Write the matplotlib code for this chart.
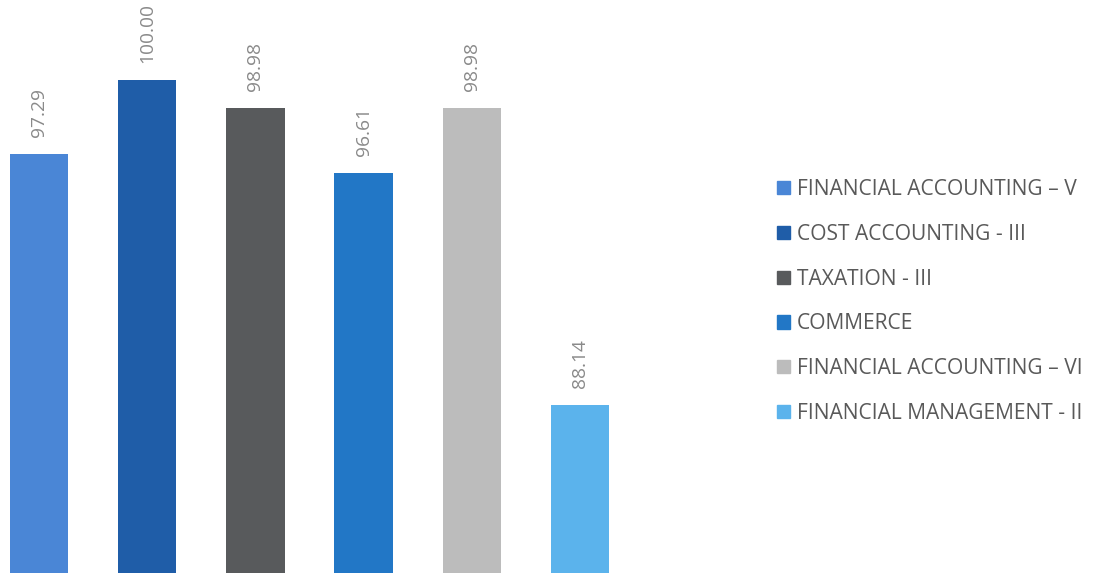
import matplotlib
matplotlib.use("Agg")
import matplotlib.pyplot as plt

categories = ["FINANCIAL ACCOUNTING – V", "COST ACCOUNTING - III", "TAXATION - III",
              "COMMERCE", "FINANCIAL ACCOUNTING – VI", "FINANCIAL MANAGEMENT - II"]
values = [97.29, 100.00, 98.98, 96.61, 98.98, 88.14]
colors = ["#4a86d6", "#1f5da8", "#585a5c", "#2277c6", "#bcbcbc", "#5bb3ec"]

plt.rcParams['font.family'] = ['Open Sans', 'DejaVu Sans']

W, H = 1096, 574
fig = plt.figure(figsize=(W/100, H/100), dpi=100)
left_px, right_px = 0, 634
bottom_px, top_px = 573, 25.2
ax = fig.add_axes([left_px/W, 1-bottom_px/H, (right_px-left_px)/W, (bottom_px-top_px)/H])

x = list(range(len(values)))
bars = ax.bar(x, values, width=0.54, color=colors, label=categories)
ax.set_xlim(-0.361, 5.5)
ax.set_ylim(82.0, 102.0)
for xi, v in zip(x, values):
    ax.text(xi, v + 0.62, f"{v:.2f}", rotation=90, ha='center', va='bottom',
            fontsize=13.8, color='#8a8a8a')
ax.axis('off')

handles = [plt.Rectangle((0, 0), 1, 1, color=c) for c in colors]
fs = 15.1
leg = fig.legend(handles, categories, loc='upper left', bbox_to_anchor=(777/W, 1-179/H),
                 frameon=False, fontsize=fs, labelcolor='#595959',
                 handlelength=0.6, handleheight=0.6, handletextpad=0.33,
                 labelspacing=1.135, borderpad=0, borderaxespad=0)

fig.savefig("out.png", dpi=100, facecolor='white')
